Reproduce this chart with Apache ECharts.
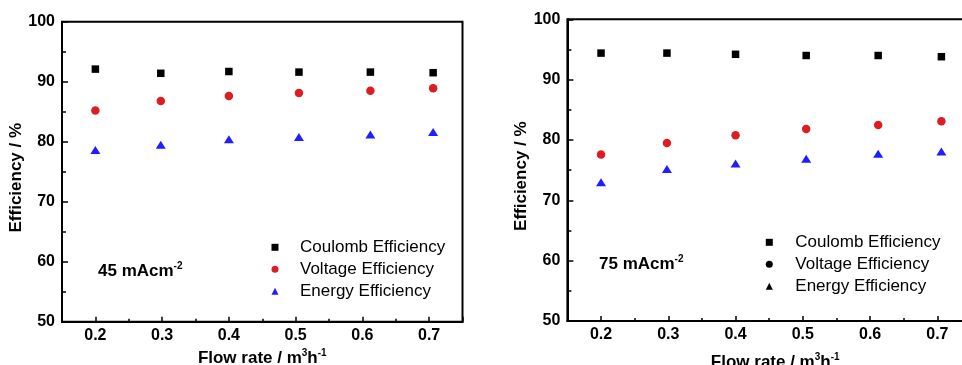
<!DOCTYPE html>
<html><head><meta charset="utf-8">
<script src="https://cdn.jsdelivr.net/npm/echarts@6/dist/echarts.min.js"></script>
<style>html,body{margin:0;padding:0;background:#fff;overflow:hidden}#c{width:962px;height:365px}</style>
</head><body><div id="c"></div>
<script>
// ---- data ----
const flowRate = [0.2, 0.298, 0.4, 0.505, 0.612, 0.706];
const seriesNames = ['Coulomb Efficiency', 'Voltage Efficiency', 'Energy Efficiency'];
const coulomb45 = [92.1, 91.4, 91.7, 91.6, 91.6, 91.5];
const voltage45 = [85.2, 86.8, 87.6, 88.1, 88.5, 88.9];
const energy45  = [78.6, 79.5, 80.4, 80.8, 81.2, 81.6];
const coulomb75 = [94.4, 94.4, 94.2, 94.0, 94.0, 93.8];
const voltage75 = [77.6, 79.5, 80.8, 81.8, 82.5, 83.1];
const energy75  = [73.0, 75.2, 76.1, 76.9, 77.7, 78.1];
const panelLabels = ['45 mAcm', '75 mAcm'];
const panelSup = '-2';
const xTitleMain = 'Flow rate / m';
const yTitle = 'Efficiency / %';
const xRange = [0.15, 0.75];
const yRange = [50, 100];
const yInterval = 10;

// ---- styles ----
const FONT = 'Liberation Sans, Arial, sans-serif';
const RED = '#dc1e24', BLUE = '#1e1eff', BLACK = '#000';
const symbols = ['rect', 'circle', 'triangle'];
const symSizes = [7.5, 8.5, [10, 8]];

const grids = [
  { left: 62, top: 21.7, width: 400.5, height: 300 },
  { left: 567.4, top: 19.3, width: 403.6, height: 301.7 }
];

function xAxis(i, gap, pad) {
  return {
    type: 'value', gridIndex: i, min: xRange[0], max: xRange[1], splitNumber: 6,
    axisLine: { show: true, lineStyle: { color: BLACK, width: 2 } },
    axisTick: { show: true, inside: true, length: 5, lineStyle: { color: BLACK, width: 1.5 } },
    minorTick: { show: true, splitNumber: 2, length: 3, lineStyle: { color: BLACK, width: 1.5 } },
    splitLine: { show: false }, minorSplitLine: { show: false },
    axisLabel: { showMinLabel: false, showMaxLabel: false, margin: 6, color: BLACK, fontFamily: FONT, fontWeight: 'bold', fontSize: 16 },
    name: '{m|' + xTitleMain + '}{s|3}{m|h}{s|-1}',
    nameLocation: 'middle', nameGap: gap,
    nameTextStyle: {
      padding: pad,
      rich: {
        m: { fontFamily: FONT, fontWeight: 'bold', fontSize: 17, color: BLACK, lineHeight: 20 },
        s: { fontFamily: FONT, fontWeight: 'bold', fontSize: 10, color: BLACK, verticalAlign: 'top', lineHeight: 20, padding: [0, 0, 8, 0] }
      }
    }
  };
}
function yAxis(i, gap) {
  return {
    type: 'value', gridIndex: i, min: yRange[0], max: yRange[1], interval: yInterval,
    axisLine: { show: true, lineStyle: { color: BLACK, width: 2 } },
    axisTick: { show: true, inside: true, length: 6, lineStyle: { color: BLACK, width: 1.5 } },
    minorTick: { show: true, splitNumber: 2, length: 4, lineStyle: { color: BLACK, width: 1.5 } },
    splitLine: { show: false }, minorSplitLine: { show: false },
    axisLabel: { margin: 7, color: BLACK, fontFamily: FONT, fontWeight: 'bold', fontSize: 16 },
    name: yTitle, nameLocation: 'middle', nameGap: gap, nameRotate: 90,
    nameTextStyle: { fontFamily: FONT, fontWeight: 'bold', fontSize: 17, color: BLACK, padding: [0, 12, 0, 0] }
  };
}

function panelSeries(i, vals, colors) {
  return vals.map((v, k) => ({
    name: seriesNames[k], type: 'scatter', xAxisIndex: i, yAxisIndex: i,
    symbol: symbols[k], symbolSize: symSizes[k],
    itemStyle: { color: colors[k], opacity: 1 },
    data: flowRate.map((x, j) => [x, v[j]]),
    emphasis: { disabled: true }
  }));
}

function legend(left, top, pad, black) {
  return {
    orient: 'vertical', left: left, top: top, padding: 0, itemGap: 0,
    itemWidth: 7, itemHeight: 7, selectedMode: false,
    textStyle: { fontFamily: FONT, fontSize: 17, color: BLACK, lineHeight: 22, padding: [0, 0, 0, pad] },
    data: seriesNames.map((n, k) => {
      const d = { name: n, icon: symbols[k] };
      if (black) d.itemStyle = { color: BLACK };
      return d;
    })
  };
}

function panelTitle(i, left, top) {
  return {
    text: '{b|' + panelLabels[i] + '}{s|' + panelSup + '}', left: left, top: top, padding: 0,
    textStyle: {
      rich: {
        b: { fontFamily: FONT, fontWeight: 'bold', fontSize: 17, color: BLACK, lineHeight: 20 },
        s: { fontFamily: FONT, fontWeight: 'bold', fontSize: 10, color: BLACK, verticalAlign: 'top', lineHeight: 20 }
      }
    }
  };
}

const chart = echarts.init(document.getElementById('c'), null, { renderer: 'canvas', width: 962, height: 365 });
chart.setOption({
  animation: false,
  backgroundColor: '#fff',
  grid: grids.map(g => Object.assign({ show: true, borderColor: BLACK, borderWidth: 2, backgroundColor: 'transparent', containLabel: false, outerBoundsMode: 'none' }, g)),
  xAxis: [xAxis(0, 26, [0, 0, 0, 0]), xAxis(1, 31, [0, 0, 0, 12])],
  yAxis: [yAxis(0, 26), yAxis(1, 27.5)],
  title: [panelTitle(0, 98, 261.5), panelTitle(1, 599, 254)],
  legend: [legend(271.5, 236.3, 16.5, false), legend(765.8, 231.3, 17.5, true)],
  series: [
    ...panelSeries(0, [coulomb45, voltage45, energy45], [BLACK, RED, BLUE]),
    ...panelSeries(1, [coulomb75, voltage75, energy75], [BLACK, RED, BLUE])
  ]
});
</script></body></html>
